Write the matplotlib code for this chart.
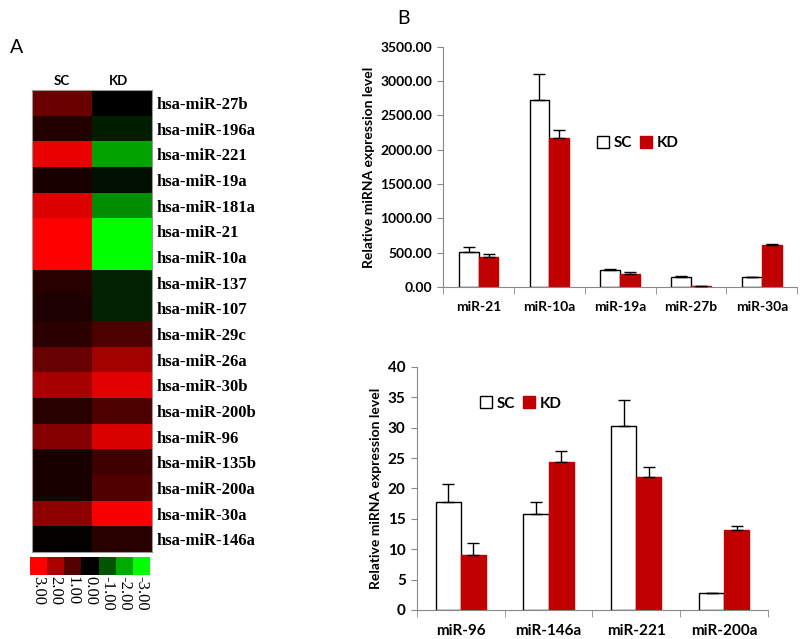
import numpy as np
import matplotlib.pyplot as plt
from matplotlib.colors import LinearSegmentedColormap

mirna_names = ["hsa-miR-27b", "hsa-miR-196a", "hsa-miR-221", "hsa-miR-19a",
               "hsa-miR-181a", "hsa-miR-21", "hsa-miR-10a", "hsa-miR-137",
               "hsa-miR-107", "hsa-miR-29c", "hsa-miR-26a", "hsa-miR-30b",
               "hsa-miR-200b", "hsa-miR-96", "hsa-miR-135b", "hsa-miR-200a",
               "hsa-miR-30a", "hsa-miR-146a"]
heat_sc = [1.25, 0.4, 2.75, 0.3, 2.6, 3.0, 3.0, 0.45, 0.35, 0.5, 1.2, 1.95,
           0.45, 1.55, 0.3, 0.3, 1.65, 0.05]
heat_kd = [0.0, -0.35, -1.9, -0.18, -1.65, -3.0, -3.0, -0.4, -0.4, 0.9, 1.9,
           2.65, 0.9, 2.55, 0.75, 0.95, 2.95, 0.45]
heat_cols = ["SC", "KD"]
scale_vals = [3.0, 2.0, 1.0, 0.0, -1.0, -2.0, -3.0]
scale_labels = ["3.00", "2.00", "1.00", "0.00", "-1.00", "-2.00", "-3.00"]

# bar chart B, top
top_cats = ["miR-21", "miR-10a", "miR-19a", "miR-27b", "miR-30a"]
top_sc = [510, 2732, 253, 146, 146]
top_sc_err = [73, 369, 14, 9, 4]
top_kd = [437, 2168, 194, 15, 617]
top_kd_err = [49, 117, 25, 4, 15]
top_ticks = [0, 500, 1000, 1500, 2000, 2500, 3000, 3500]

# bar chart B, bottom
bot_cats = ["miR-96", "miR-146a", "miR-221", "miR-200a"]
bot_sc = [17.8, 15.8, 30.25, 2.74]
bot_sc_err = [2.9, 1.95, 4.25, 0.05]
bot_kd = [9.0, 24.3, 21.9, 13.15]
bot_kd_err = [2.0, 1.8, 1.7, 0.65]
bot_ticks = [0, 5, 10, 15, 20, 25, 30, 35, 40]

RED = "#c00000"
SANS = "Lato"
SERIF = "Liberation Serif"

cmap = LinearSegmentedColormap.from_list("rg", ["#00ff00", "#000000", "#ff0000"])


def draw_bars(ax, cats, sc, sc_err, kd, kd_err, width, ticks, fmt, tick_fs, cat_fs):
    x = np.arange(len(cats))
    ax.bar(x - width / 2, sc, width, color="white", edgecolor="black", linewidth=1, label="SC", zorder=2)
    ax.bar(x + width / 2, kd, width, color=RED, edgecolor=RED, linewidth=1, label="KD", zorder=2)
    ax.errorbar(x - width / 2, sc, yerr=[np.zeros(len(sc)), sc_err], fmt="none",
                ecolor="black", elinewidth=1, capsize=4, capthick=1, zorder=3)
    ax.errorbar(x + width / 2, kd, yerr=[np.zeros(len(kd)), kd_err], fmt="none",
                ecolor="black", elinewidth=1, capsize=4, capthick=1, zorder=3)
    ax.set_xlim(-0.5, len(cats) - 0.5)
    ax.set_ylim(ticks[0], ticks[-1])
    ax.set_yticks(ticks)
    ax.set_yticklabels([fmt.format(t) for t in ticks], fontsize=tick_fs,
                       fontweight="bold", family=SANS)
    ax.set_xticks(x)
    ax.set_xticklabels(cats, fontsize=cat_fs, fontweight="bold", family=SANS)
    ax.set_xticks(np.arange(len(cats) + 1) - 0.5, minor=True)
    ax.tick_params(axis="x", which="major", length=0, pad=10)
    ax.tick_params(axis="x", which="minor", length=5, color="#888888", direction="out")
    ax.tick_params(axis="y", length=4, color="#888888", direction="out", pad=4)
    for s in ["top", "right"]:
        ax.spines[s].set_visible(False)
    for s in ["left", "bottom"]:
        ax.spines[s].set_color("#888888")
    ax.set_ylabel("Relative miRNA expression level", fontsize=10,
                  fontweight="bold", family=SANS)
    ax.set_facecolor("none")


fig = plt.figure(figsize=(8, 6.39), dpi=100)

# heatmap
ax_h = fig.add_axes([0.04, 0.136, 0.15, 0.723])
mat = np.column_stack([heat_sc, heat_kd])
ax_h.imshow(mat, cmap=cmap, vmin=-3, vmax=3, aspect="auto", interpolation="nearest")
ax_h.set_xticks([])
ax_h.set_yticks(np.arange(len(mirna_names)))
ax_h.yaxis.tick_right()
ax_h.set_yticklabels(mirna_names, fontsize=12, fontweight="bold", family=SERIF)
ax_h.tick_params(axis="y", length=0, pad=3)
for s in ax_h.spines.values():
    s.set_color("#999999")
    s.set_linewidth(0.8)
for i, c in enumerate(heat_cols):
    ax_h.text(i - 0.05 * i, -0.85, c, ha="center", va="center", fontsize=9.5,
              fontweight="bold", family=SANS)
fig.text(0.012, 0.917, "A", fontsize=14, family=SANS)

# colour scale
ax_c = fig.add_axes([0.0375, 0.1, 0.15, 0.028])
ax_c.imshow(np.array(scale_vals)[None, :], cmap=cmap, vmin=-3, vmax=3,
            aspect="auto", interpolation="nearest")
ax_c.set_xticks(np.arange(len(scale_vals)))
ax_c.set_xticklabels(scale_labels, rotation=-90, fontsize=12, family=SERIF)
ax_c.tick_params(axis="x", length=0, pad=1)
ax_c.set_yticks([])
for s in ax_c.spines.values():
    s.set_visible(False)

fig.text(0.497, 0.963, "B", fontsize=14, family=SANS)

# top bar chart
ax_t = fig.add_axes([0.554, 0.551, 0.4425, 0.3756])
draw_bars(ax_t, top_cats, top_sc, top_sc_err, top_kd, top_kd_err, 0.28,
          top_ticks, "{:.2f}", 10, 10)
ax_t.legend(loc="center left", bbox_to_anchor=(0.395, 0.6), ncol=2, frameon=False,
            handlelength=0.8, handleheight=0.8, handletextpad=0.3, columnspacing=0.5,
            prop={"family": SANS, "weight": "bold", "size": 11})

# bottom bar chart
ax_b = fig.add_axes([0.521, 0.0454, 0.439, 0.3803])
draw_bars(ax_b, bot_cats, bot_sc, bot_sc_err, bot_kd, bot_kd_err, 0.285,
          bot_ticks, "{:d}", 11, 11)
ax_b.legend(loc="center left", bbox_to_anchor=(0.14, 0.85), ncol=2, frameon=False,
            handlelength=0.8, handleheight=0.8, handletextpad=0.3, columnspacing=0.5,
            prop={"family": SANS, "weight": "bold", "size": 11})

fig.savefig("out.png", dpi=100)
